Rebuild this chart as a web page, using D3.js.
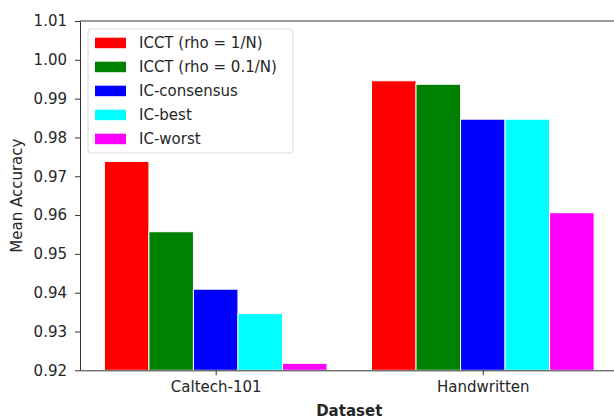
<!DOCTYPE html>
<html>
<head>
<meta charset="utf-8">
<script src="https://cdn.jsdelivr.net/npm/d3@7"></script>
<style>
  body { margin: 0; background: #fff; }
  svg { display: block; font-family: 'DejaVu Sans', sans-serif; }
</style>
</head>
<body>
<div id="chart"></div>
<script>
const datasets = ['Caltech-101', 'Handwritten'];
const seriesNames = ['ICCT (rho = 1/N)', 'ICCT (rho = 0.1/N)', 'IC-consensus', 'IC-best', 'IC-worst'];
const seriesColors = ['#ff0000', '#008000', '#0000ff', '#00ffff', '#ff00ff'];
const icctRho1 = [0.9738, 0.9946];
const icctRho01 = [0.9557, 0.9937];
const icConsensus = [0.9409, 0.9847];
const icBest = [0.9346, 0.9847];
const icWorst = [0.9218, 0.9606];
const yTicks = [0.92, 0.93, 0.94, 0.95, 0.96, 0.97, 0.98, 0.99, 1.00, 1.01];

const seriesValues = [icctRho1, icctRho01, icConsensus, icBest, icWorst];

const width = 614;
const height = 419;
const plot = { left: 80, right: 618.5, top: 21, bottom: 370.3 };
const barW = 1 / 6;
const fontSize = 15;

const svg = d3.select('#chart')
  .append('svg')
  .attr('width', width)
  .attr('height', height)
  .attr('viewBox', [0, 0, width, height]);

// x axis in "group units", matplotlib style margins
const x = d3.scaleLinear()
  .domain([-0.508, 1.508])
  .range([plot.left, plot.right]);

const y = d3.scaleLinear()
  .domain([0.92, 1.01])
  .range([plot.bottom, plot.top]);

const bars = [];
seriesValues.forEach((vals, s) => {
  vals.forEach((v, g) => {
    bars.push({ s: s, g: g, value: v });
  });
});

svg.append('g')
  .selectAll('rect')
  .data(bars)
  .enter()
  .append('rect')
  .attr('x', d => x(d.g + (d.s - 2) * barW - barW / 2))
  .attr('width', x(barW) - x(0))
  .attr('y', d => y(d.value))
  .attr('height', d => y(0.92) - y(d.value))
  .attr('fill', d => seriesColors[d.s])
  .attr('stroke', '#fff')
  .attr('stroke-width', 1);

// y axis
const yAxis = svg.append('g')
  .attr('transform', `translate(${plot.left},0)`)
  .call(d3.axisLeft(y).tickValues(yTicks).tickFormat(d3.format('.2f')).tickSize(5).tickPadding(8).tickSizeOuter(0));
yAxis.select('.domain').attr('stroke', '#333').attr('stroke-width', 1);
yAxis.selectAll('.tick line').attr('stroke', '#333');
yAxis.selectAll('.tick text').attr('fill', '#262626').style('font-size', fontSize + 'px').style('font-family', 'DejaVu Sans');

// x axis
const xAxis = svg.append('g')
  .attr('transform', `translate(0,${plot.bottom})`)
  .call(d3.axisBottom(x).tickValues([0, 1]).tickFormat(i => datasets[i]).tickSize(5).tickPadding(6).tickSizeOuter(0));
xAxis.select('.domain').attr('stroke', '#333').attr('stroke-width', 1);
xAxis.selectAll('.tick line').attr('stroke', '#333');
xAxis.selectAll('.tick text').attr('fill', '#262626').style('font-size', fontSize + 'px').style('font-family', 'DejaVu Sans');

// top and right spines
svg.append('line')
  .attr('x1', plot.left).attr('x2', plot.right)
  .attr('y1', plot.top).attr('y2', plot.top)
  .attr('stroke', '#333').attr('stroke-width', 1);
svg.append('line')
  .attr('x1', plot.right).attr('x2', plot.right)
  .attr('y1', plot.top).attr('y2', plot.bottom)
  .attr('stroke', '#333').attr('stroke-width', 1);

// axis titles
svg.append('text')
  .attr('x', (plot.left + plot.right) / 2)
  .attr('y', 416)
  .attr('text-anchor', 'middle')
  .attr('font-weight', 'bold')
  .attr('fill', '#262626')
  .style('font-size', fontSize + 'px')
  .text('Dataset');

svg.append('text')
  .attr('transform', `translate(22,${(plot.top + plot.bottom) / 2}) rotate(-90)`)
  .attr('text-anchor', 'middle')
  .attr('fill', '#262626')
  .style('font-size', fontSize + 'px')
  .text('Mean Accuracy');

// legend
const legend = svg.append('g').attr('transform', 'translate(88,29)');
legend.append('rect')
  .attr('width', 205).attr('height', 124)
  .attr('rx', 3)
  .attr('fill', '#fff').attr('fill-opacity', 0.8)
  .attr('stroke', '#d9d9d9').attr('stroke-width', 1);

const items = legend.selectAll('g.item')
  .data(seriesNames)
  .enter()
  .append('g')
  .attr('transform', (d, i) => `translate(0,${13.7 + i * 24})`);
items.append('rect')
  .attr('x', 7).attr('y', -5)
  .attr('width', 31).attr('height', 10.5)
  .attr('fill', (d, i) => seriesColors[i]);
items.append('text')
  .attr('x', 51).attr('y', 5.5)
  .attr('fill', '#262626')
  .style('font-size', fontSize + 'px')
  .text(d => d);
</script>
</body>
</html>
